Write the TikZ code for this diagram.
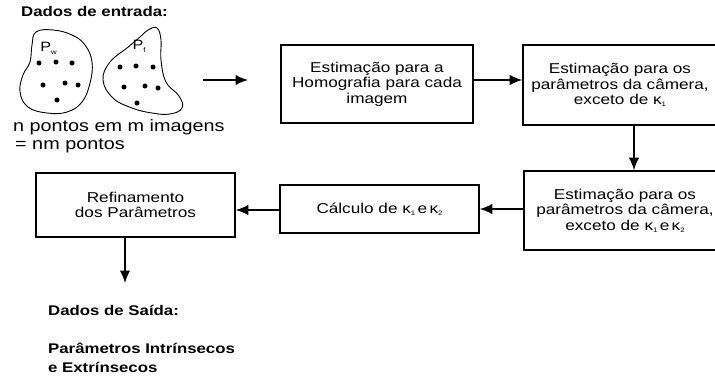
\documentclass[tikz,border=0pt]{standalone}
\usepackage{fontspec}
\setmainfont{Liberation Sans}[FakeStretch=1.2]
\usetikzlibrary{arrows.meta}
\newcommand{\kk}[1]{κ\raisebox{-2pt}{\fontsize{6.5}{6.5}\selectfont #1}}
\newcommand{\psub}[2]{#1\raisebox{-3pt}{\fontsize{6.5}{6.5}\selectfont #2}}
\begin{document}
\begin{tikzpicture}[x=1pt,y=-1pt,
  font=\fontsize{14.3}{15.5}\selectfont,
  box/.style={draw, line width=1.6pt, align=center, inner sep=0pt},
  arr/.style={line width=1.6pt, -{Latex[length=12.5pt,width=10.5pt]}},
  blob/.style={line width=0.9pt},
  dot/.style={fill=black},
  bold/.style={font=\fontsize{14}{19}\selectfont\bfseries}]
\useasboundingbox (0,0) rectangle (715,383);

% title
\node[bold, anchor=base west, inner sep=0pt] (tin) at (21,16) {Dados de entrada:};

% blobs
\draw[blob] plot[smooth cycle, tension=0.7] coordinates {(36,32) (53,30) (72,35) (85,45) (92,62) (90,83) (82,102) (67,112) (47,113) (28,107) (20,92) (23,75) (30,62) (32,45)};
\draw[blob] plot[smooth cycle, tension=0.7] coordinates {(148,30) (157,28) (161,40) (161,60) (166,82) (179,96) (182,108) (170,114) (152,113) (132,108) (113,98) (103,80) (110,62) (127,48) (140,37)};
\foreach \p in {(39,63),(56,62),(72,63),(43,85),(65,83),(78,85),(57,100),
                (120,67),(136,66),(153,67),(124,87),(145,86),(158,88),(137,103)}
  \fill[dot] \p circle (2.5pt);
\node[font=\fontsize{13.5}{13.5}\selectfont, inner sep=0pt] (pw) at (48.5,48) {\psub{P}{w}};
\node[font=\fontsize{13.5}{13.5}\selectfont, inner sep=0pt] (pf) at (139,46) {\psub{P}{f}};

\node[anchor=base west, inner sep=0pt, align=left, font=\fontsize{16.5}{18}\selectfont] (npts) at (13,149) {n pontos em m imagens\\\hspace{2pt}= nm pontos};

\coordinate (inA) at (203,80);
\coordinate (inB) at (248,80);
\draw[arr] (inA) -- (inB);

% boxes
\node[box, minimum width=192pt, minimum height=78pt] (homog) at (377,84) {Estimação para a\\Homografia para cada\\imagem};
\node[box, minimum width=194pt, minimum height=80pt] (cam1) at (620,85) {Estimação para os\\parâmetros da câmera,\\exceto de \kk{1}};
\node[box, minimum width=202pt, minimum height=79pt] (cam2) at (625,210.5) {Estimação para os\\parâmetros da câmera,\\exceto de \kk{1}\,e\,\kk{2}};
\node[box, minimum width=199pt, minimum height=48pt] (calc) at (379.5,209) {Cálculo de \kk{1}\,e\,\kk{2}};
\node[box, minimum width=199pt, minimum height=64pt] (ref) at (135.5,205) {Refinamento\\dos Parâmetros};

% connectors
\draw[arr] ([yshift=4pt]homog.east) -- ([yshift=4pt]homog.east -| cam1.west);
\coordinate (downx) at (634,0);
\draw[arr] (cam1.south -| downx) -- (cam2.north -| downx);
\draw[arr] (cam2.west |- calc.east) -- (calc.east);
\draw[arr] ([yshift=-1pt]calc.west) -- ([yshift=-1pt]calc.west -| ref.east);
\coordinate (outB) at (125,283);
\draw[arr] (ref.south -| outB) -- (outB);

% output text
\node[bold, anchor=base west, inner sep=0pt] (tout) at (48,315) {Dados de Saída:};
\node[bold, anchor=base west, inner sep=0pt, align=left] (params) at (48,372) {Parâmetros Intrínsecos\\e Extrínsecos};
\end{tikzpicture}
\end{document}
